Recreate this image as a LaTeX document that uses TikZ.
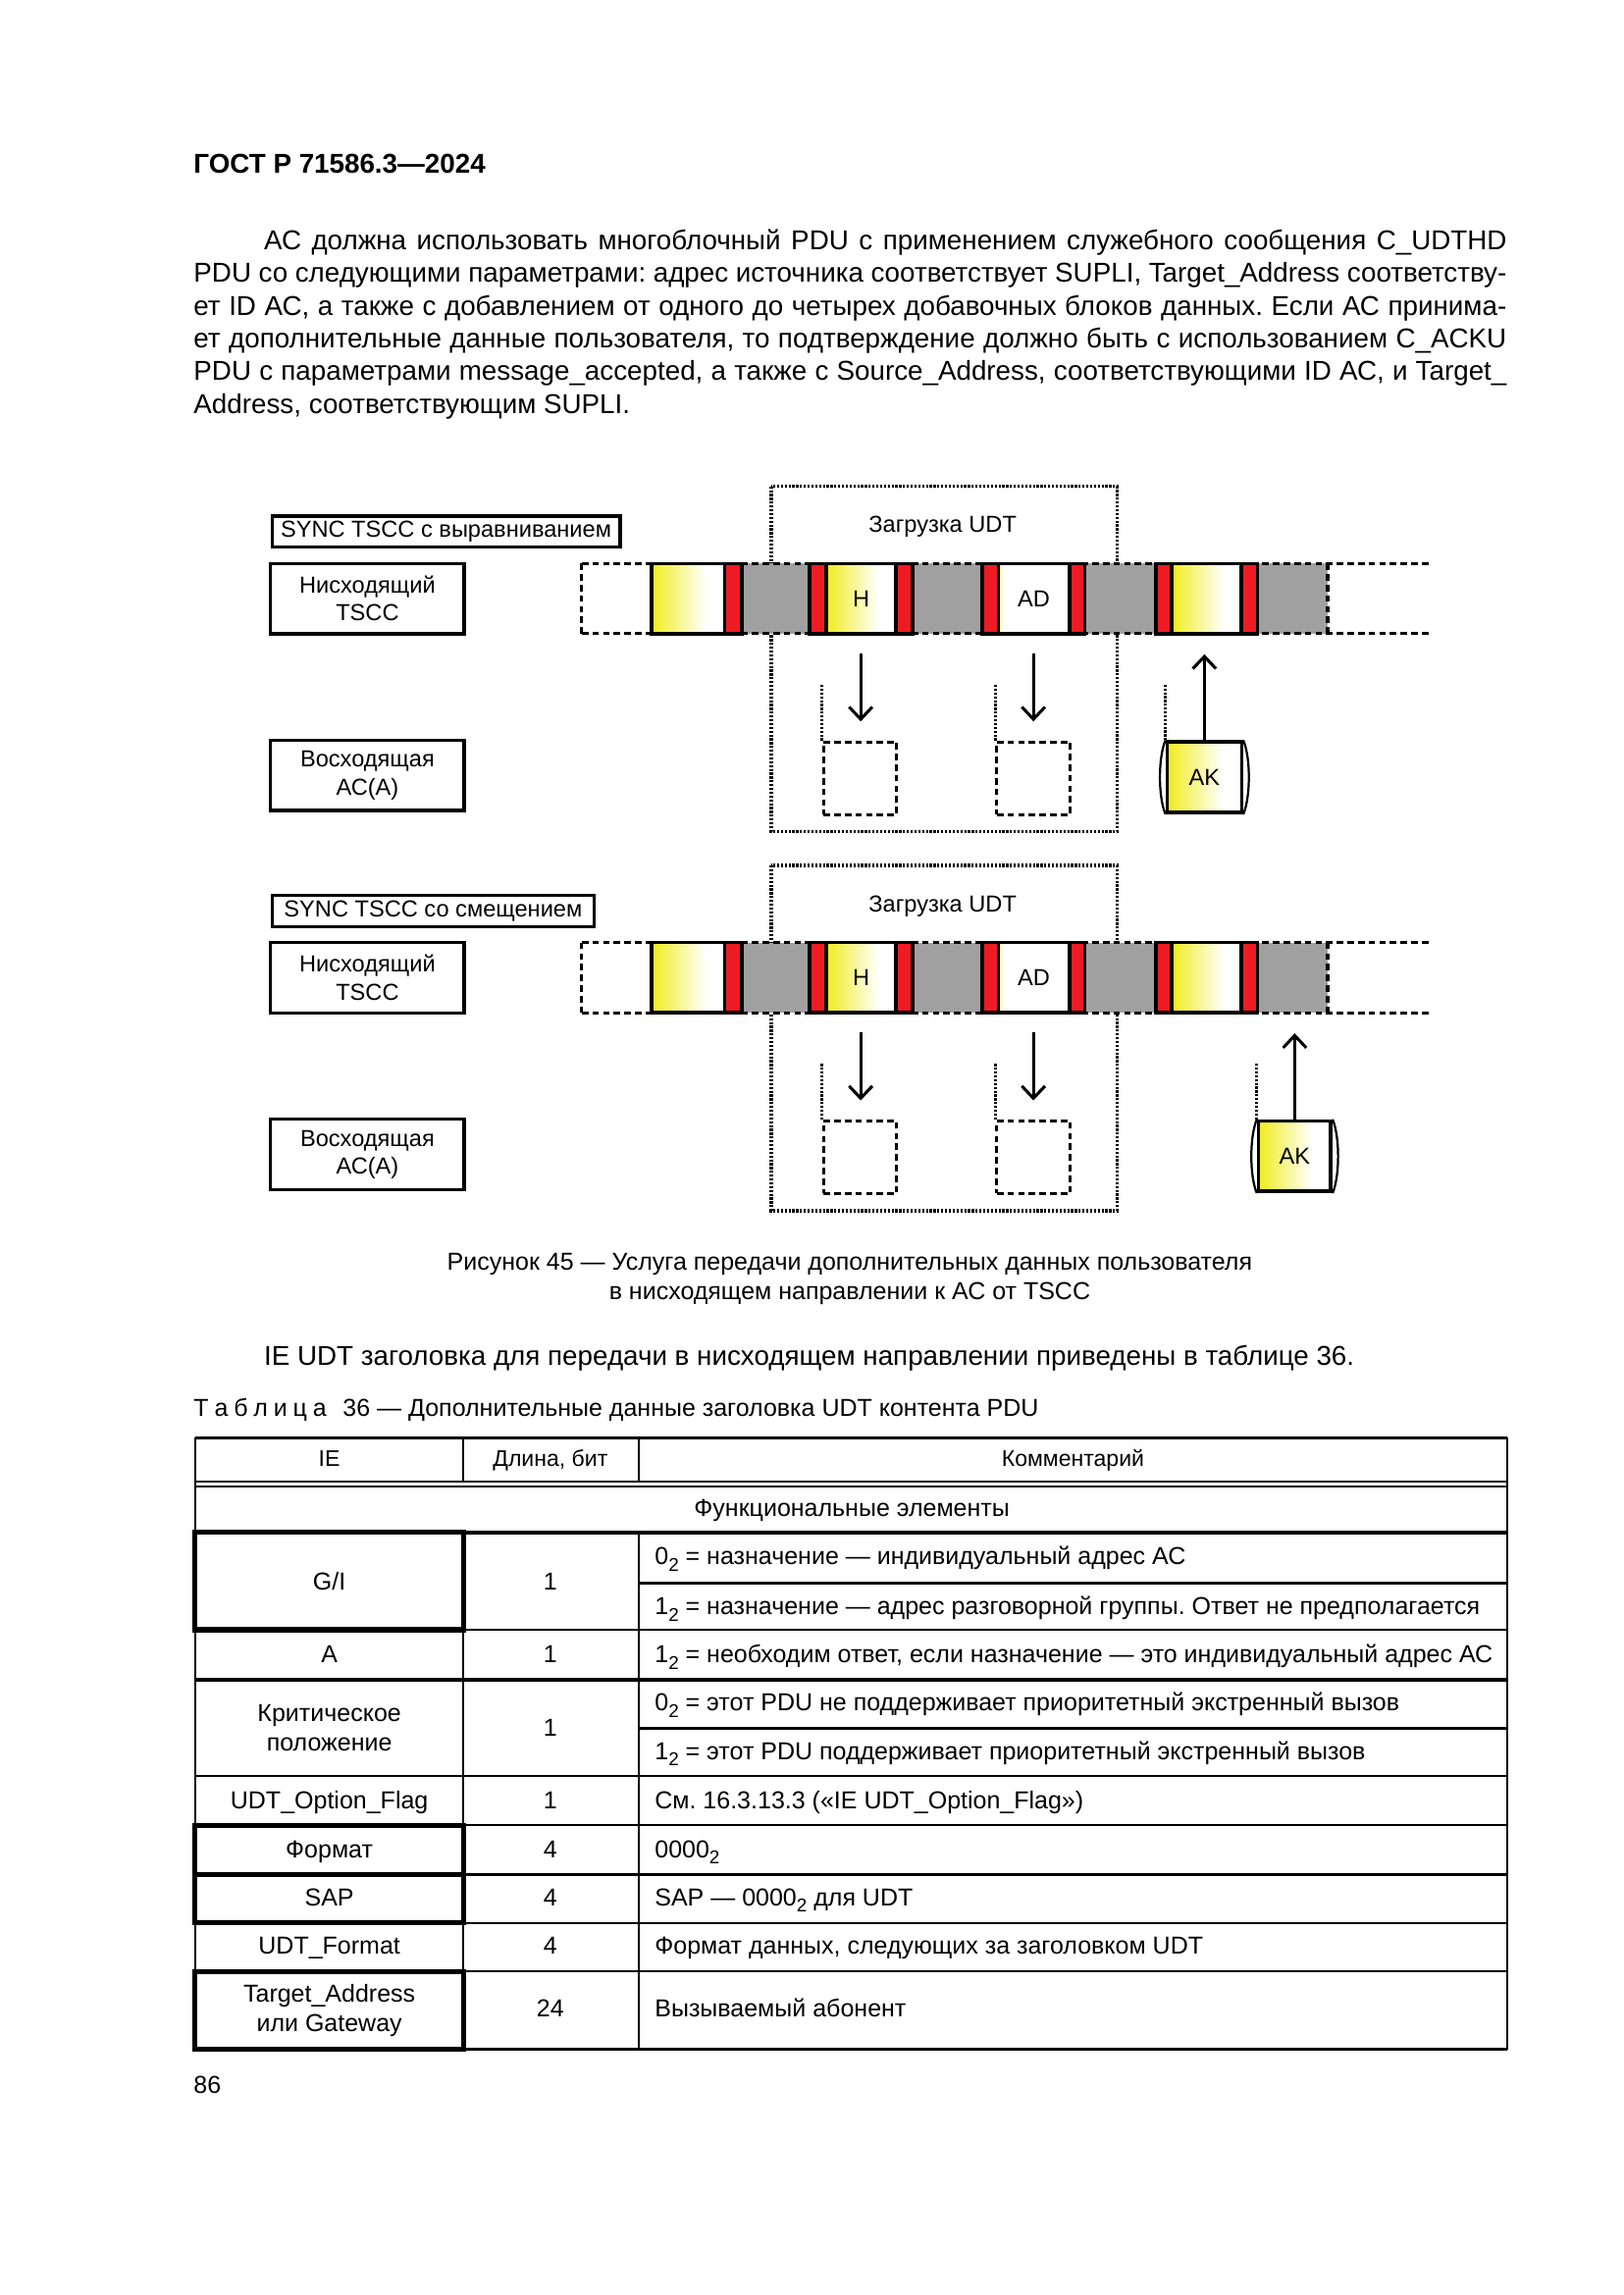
\documentclass[tikz,border=0pt]{standalone}
\usepackage{fontspec}
\setmainfont{Liberation Sans}
\usetikzlibrary{arrows.meta}
\frenchspacing
\definecolor{ylw}{RGB}{240,236,30}
\definecolor{rd}{RGB}{237,28,36}
\definecolor{gr}{RGB}{160,160,160}
\pgfdeclarehorizontalshading{yfade}{100bp}{color(0bp)=(ylw); color(25bp)=(ylw); color(62bp)=(white); color(100bp)=(white)}
\pgfdeclarehorizontalshading{adfade}{100bp}{color(0bp)=(ylw!45!white); color(25bp)=(ylw!45!white); color(29bp)=(white); color(100bp)=(white)}
\newcommand\bodyf{\fontsize{10}{12}\selectfont\frenchspacing}
\newcommand\smallf{\fontsize{9}{10.8}\selectfont}
\newcommand\dfont{\fontsize{8.5}{10.2}\selectfont}
\newcommand\hdrf{\fontsize{8.3}{10}\selectfont}
\newcommand\subtwo{\raisebox{-2.4pt}{\fontsize{6.8}{8}\selectfont 2}}
\tikzset{
  dsh/.style={line width=1.1pt, dash pattern=on 2.4pt off 1.5pt},
  sol/.style={line width=1.3pt},
  dotl/.style={line width=1.2pt, dash pattern=on 0.8pt off 0.6pt},
  arr/.style={line width=1.1pt, -{Straight Barb[length=4.5pt,width=8.5pt]}},
  lbox/.style={draw, line width=1.2pt, inner sep=0pt, align=center, font=\dfont, minimum width=71pt, minimum height=25.8pt},
  dtext/.style={font=\dfont, inner sep=0pt},
  rbox/.style={draw, dsh, inner sep=0pt, minimum width=26.9pt, minimum height=26.6pt},
  akbox/.style={draw, sol, shading=yfade, inner sep=0pt, minimum height=25.8pt, font=\dfont},
  bulge/.style={line width=0.8pt},
  tl/.style={line width=0.7pt},
  tk/.style={line width=1.2pt},
  tb/.style={line width=1.9pt},
  tf/.style={font=\smallf, inner sep=0pt, anchor=base},
  tw/.style={font=\smallf, inner sep=0pt, anchor=base west},
  bl/.style={font=\bodyf, inner sep=0pt, anchor=base west}
}
% #1 suffix, #2 vertical shift, #3 sync box width, #4 sync text, #5 AK centre x, #6 AK width
\newcommand\pdurow[6]{%
\begin{scope}[shift={(0,#2)}]
\node[lbox, anchor=north west, minimum width=#3, minimum height=11.4pt] (sync#1) at (184.8,351.6) {#4};
\node[lbox] (dn#1) at (251,409) {Нисходящий\\TSCC};
\node[lbox] (up#1) at (251,529.7) {Восходящая\\АС(А)};
\draw[dotl] (527,332.3) rectangle (763,568.3);
\node[dtext] (zag#1) at (644,360) {Загрузка UDT};
\fill[gr] (507,385) rectangle (907,433);
\draw[dsh] (397.5,385) -- (977,385);
\draw[dsh] (397.5,433) -- (977,433);
\draw[dsh] (397.5,385) -- (397.5,433);
\draw[dsh] (907,385) -- (907,433);
\shade[shading=yfade] (445,385) rectangle (495,433);
\fill[rd] (495,385) rectangle (507,433);
\draw[sol] (445,385) rectangle (507,433) (495,385) -- (495,433);
\fill[rd] (553,385) rectangle (623.5,433);
\shade[shading=yfade] (564.5,385) rectangle (612,433);
\draw[sol] (553,385) rectangle (623.5,433) (564.5,385) -- (564.5,433) (612,385) -- (612,433);
\node[dtext] (h#1) at (588.3,409) {H};
\fill[rd] (671,385) rectangle (741,433);
\shade[shading=adfade] (682,385) rectangle (730.5,433);
\draw[sol] (671,385) rectangle (741,433) (682,385) -- (682,433) (730.5,385) -- (730.5,433);
\node[dtext] (ad#1) at (706.3,409) {AD};
\fill[rd] (789.5,385) rectangle (859,433);
\shade[shading=yfade] (800.5,385) rectangle (848,433);
\draw[sol] (789.5,385) rectangle (859,433) (800.5,385) -- (800.5,433) (848,385) -- (848,433);
\node[rbox] (hb#1) at (587.6,531.7) {};
\node[rbox] (adb#1) at (706.1,531.7) {};
\coordinate (hs#1) at (588,446.5);
\coordinate (ads#1) at (706,446.5);
\draw[arr, shorten >=7pt] (hs#1) -- (hs#1 |- hb#1.north);
\draw[arr, shorten >=7pt] (ads#1) -- (ads#1 |- adb#1.north);
\draw[dotl] (hb#1.north west) -- ++(0,-39);
\draw[dotl] (adb#1.north west) -- ++(0,-39);
\node[akbox, minimum width=#6] (ak#1) at (#5,531) {AK};
\draw[bulge] (ak#1.north west) .. controls +(-5,12) and +(-5,-12) .. (ak#1.south west);
\draw[bulge] (ak#1.north east) .. controls +(5,12) and +(5,-12) .. (ak#1.south east);
\coordinate (akt#1) at (#5,447);
\draw[arr] (ak#1.north) -- (akt#1);
\draw[dotl] (ak#1.north west) -- ++(0,-39);
\end{scope}}
\begin{document}
\begin{tikzpicture}[x=0.53694pt,y=-0.53694pt]
\useasboundingbox[fill=white] (0,0) rectangle (1109,1568);
\node[anchor=base west, inner sep=0pt, font=\bfseries\fontsize{10}{12}\selectfont] (hdr) at (132,118) {ГОСТ Р 71586.3—2024};
\node[bl] (p1) at (180,170.5) {\makebox[455.9pt][s]{АС должна использовать многоблочный PDU с применением служебного сообщения C\_UDTHD}};
\node[bl] (p2) at (132,192.9) {\makebox[481.6pt][s]{PDU со следующими параметрами: адрес источника соответствует SUPLI, Target\_Address соответству-}};
\node[bl] (p3) at (132,215.2) {\makebox[481.6pt][s]{ет ID АС, а также с добавлением от одного до четырех добавочных блоков данных. Если АС принима-}};
\node[bl] (p4) at (132,237.6) {\makebox[481.6pt][s]{ет дополнительные данные пользователя, то подтверждение должно быть с использованием C\_ACKU}};
\node[bl] (p5) at (132,259.9) {\makebox[481.6pt][s]{PDU с параметрами message\_accepted, а также с Source\_Address, соответствующими ID АС, и Target\_}};
\node[bl] (p6) at (132,282.3) {Address, соответствующим SUPLI.};

\pdurow{1}{0}{127.6pt}{SYNC TSCC с выравниванием}{822.8}{27.3pt}
\pdurow{2}{259}{118.1pt}{SYNC TSCC со смещением}{884.5}{26.5pt}

\node[tf] (cap1) at (580.5,868) {Рисунок 45 — Услуга передачи дополнительных данных пользователя};
\node[tf] (cap2) at (580.5,888) {в нисходящем направлении к АС от TSCC};
\node[bl] (intro) at (180,932.5) {IE UDT заголовка для передачи в нисходящем направлении приведены в таблице 36.};
\node[tw] (ttl) at (132,968) {Т\hspace{2.1pt}а\hspace{2.1pt}б\hspace{2.1pt}л\hspace{2.1pt}и\hspace{2.1pt}ц\hspace{2.1pt}а\hspace{6pt}36 — Дополнительные данные заголовка UDT контента PDU};

\def\cA{133.2}\def\cB{316.6}\def\cC{436.1}\def\cD{1029.6}
\draw[tk] (\cA,982.2) -- (\cD,982.2);
\draw[tl] (\cA,1012.4) -- (\cD,1012.4);
\draw[tl] (\cA,1015.8) -- (\cD,1015.8);
\draw[tk] (\cA,1047) -- (\cD,1047);
\draw[tk] (\cC,1081.7) -- (\cD,1081.7);
\draw[tl] (\cA,1113.4) -- (\cD,1113.4);
\draw[tk] (\cA,1147.6) -- (\cD,1147.6);
\draw[tk] (\cC,1180.7) -- (\cD,1180.7);
\draw[tl] (\cA,1213.5) -- (\cD,1213.5);
\draw[tl] (\cA,1247.1) -- (\cD,1247.1);
\draw[tk] (\cA,1280.6) -- (\cD,1280.6);
\draw[tl] (\cA,1313.7) -- (\cD,1313.7);
\draw[tl] (\cA,1347) -- (\cD,1347);
\draw[tk] (\cA,1400.2) -- (\cD,1400.2);
\draw[tl] (\cA,982.2) -- (\cA,1400.2);
\draw[tl] (\cD,982.2) -- (\cD,1400.2);
\draw[tl] (\cB,982.2) -- (\cB,1012.4);
\draw[tl] (\cC,982.2) -- (\cC,1012.4);
\draw[tl] (\cB,1047) -- (\cB,1400.2);
\draw[tl] (\cC,1047) -- (\cC,1400.2);
\draw[tb] (\cA,1047) rectangle (\cB,1113.4);
\draw[tb] (\cA,1247.1) rectangle (\cB,1280.6);
\draw[tb] (\cA,1280.6) rectangle (\cB,1313.7);
\draw[tb] (\cA,1347) rectangle (\cB,1400.2);

\node[tf, font=\hdrf] (th1) at (225,1002) {IE};
\node[tf, font=\hdrf] (th2) at (376,1002) {Длина, бит};
\node[tf, font=\hdrf] (th3) at (733,1002) {Комментарий};
\node[tf] (fe) at (582,1036) {Функциональные элементы};
\node[tf] (gi) at (225,1086) {G/I};
\node[tf] (gi1) at (376,1086) {1};
\node[tw] (c1) at (447,1069) {0\subtwo{} = назначение — индивидуальный адрес АС};
\node[tw] (c2) at (447,1103) {1\subtwo{} = назначение — адрес разговорной группы. Ответ не предполагается};
\node[tf] (ra) at (225,1136) {A};
\node[tf] (ra1) at (376,1136) {1};
\node[tw] (c3) at (447,1136) {1\subtwo{} = необходим ответ, если назначение — это индивидуальный адрес АС};
\node[font=\smallf, inner sep=0pt, align=center] (kp) at (225,1180.5) {Критическое\\положение};
\node[tf] (kp1) at (376,1186) {1};
\node[tw] (c4) at (447,1169) {0\subtwo{} = этот PDU не поддерживает приоритетный экстренный вызов};
\node[tw] (c5) at (447,1202) {1\subtwo{} = этот PDU поддерживает приоритетный экстренный вызов};
\node[tf] (uof) at (225,1236) {UDT\_Option\_Flag};
\node[tf] (uof1) at (376,1236) {1};
\node[tw] (c6) at (447,1236) {См. 16.3.13.3 («IE UDT\_Option\_Flag»)};
\node[tf] (fmt) at (225,1269) {Формат};
\node[tf] (fmt1) at (376,1269) {4};
\node[tw] (c7) at (447,1269) {0000\subtwo};
\node[tf] (sap) at (225,1302) {SAP};
\node[tf] (sap1) at (376,1302) {4};
\node[tw] (c8) at (447,1302) {SAP — 0000\subtwo{} для UDT};
\node[tf] (udf) at (225,1335) {UDT\_Format};
\node[tf] (udf1) at (376,1335) {4};
\node[tw] (c9) at (447,1335) {Формат данных, следующих за заголовком UDT};
\node[font=\smallf, inner sep=0pt, align=center] (ta) at (225,1373.5) {Target\_Address\\или Gateway};
\node[tf] (ta1) at (376,1378) {24};
\node[tw] (c10) at (447,1378) {Вызываемый абонент};
\node[tw] (pg) at (132,1430) {86};
\end{tikzpicture}
\end{document}
